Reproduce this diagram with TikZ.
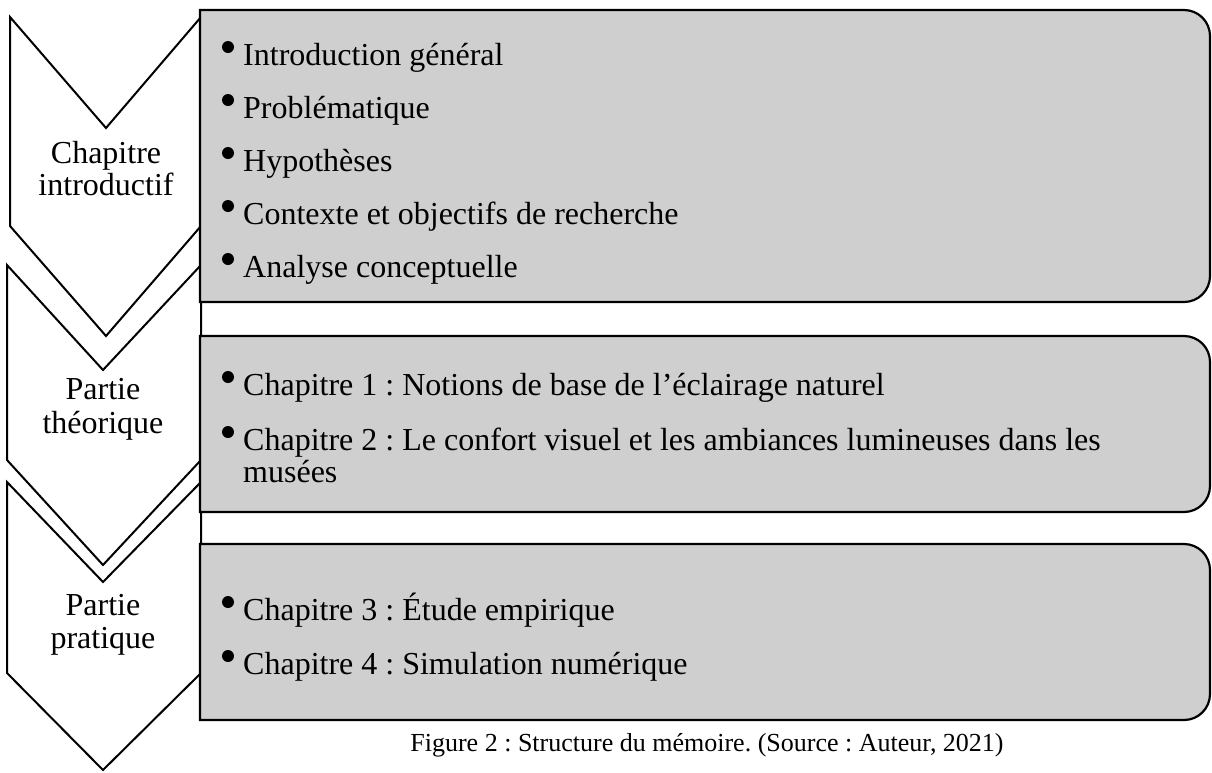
\documentclass[tikz,border=0pt]{standalone}
\usepackage{fontspec}
\setmainfont{Liberation Serif}
\frenchspacing
\begin{document}
\begin{tikzpicture}[x=1pt,y=-1pt,
  chev/.style={draw=black,line width=2pt,fill=white,line join=miter},
  gbox/.style={draw=black,line width=2.2pt,fill=boxgray},
  item/.style={anchor=base west,inner sep=0pt,font=\fontsize{32}{36}\selectfont},
  chlab/.style={anchor=base,inner sep=0pt,font=\fontsize{32}{36}\selectfont},
  bul/.style={circle,fill=black,inner sep=0pt,minimum size=12pt},
  captext/.style={anchor=base,inner sep=0pt,font=\fontsize{26}{30}\selectfont}]
\definecolor{boxgray}{HTML}{CFCFCF}
\useasboundingbox (0,0) rectangle (1212,772);
% chevrons
\draw[chev] (10,17) -- (106,128) -- (201,17) -- (201,226) -- (106,336) -- (10,226) -- cycle;
\draw[chev] (7,265) -- (103,370) -- (201,265) -- (201,460) -- (103,565) -- (7,460) -- cycle;
\draw[chev] (7,482) -- (103,582) -- (201,482) -- (201,673) -- (103,770) -- (7,673) -- cycle;
% boxes
\draw[gbox] (200,10) -- (1184,10) arc[start angle=-90,end angle=0,radius=26] -- (1210,276) arc[start angle=0,end angle=90,radius=26] -- (200,302) -- cycle;
\draw[gbox] (200,336) -- (1184,336) arc[start angle=-90,end angle=0,radius=26] -- (1210,486) arc[start angle=0,end angle=90,radius=26] -- (200,512) -- cycle;
\draw[gbox] (200,544) -- (1184,544) arc[start angle=-90,end angle=0,radius=26] -- (1210,694) arc[start angle=0,end angle=90,radius=26] -- (200,720) -- cycle;
% chevron labels
\node[chlab] (c1a) at (106,163) {Chapitre};
\node[chlab] (c1b) at (106,195) {introductif};
\node[chlab] (c2a) at (103,399) {Partie};
\node[chlab] (c2b) at (103,433) {théorique};
\node[chlab] (c3a) at (103,615) {Partie};
\node[chlab] (c3b) at (103,648) {pratique};
% box 1 items
\node[bul] (b11) at (228,47) {};
\node[item] (i11) at (243,65) {Introduction général};
\node[bul] (b12) at (228,100) {};
\node[item] (i12) at (243,118) {Problématique};
\node[bul] (b13) at (228,153) {};
\node[item] (i13) at (243,171) {Hypothèses};
\node[bul] (b14) at (228,206) {};
\node[item] (i14) at (243,224) {Contexte et objectifs de recherche};
\node[bul] (b15) at (228,259) {};
\node[item] (i15) at (243,277) {Analyse conceptuelle};
% box 2 items
\node[bul] (b21) at (228,377) {};
\node[item] (i21) at (243,395) {Chapitre 1 : Notions de base de l’éclairage naturel};
\node[bul] (b22) at (228,432) {};
\node[item] (i22) at (243,450) {Chapitre 2 : Le confort visuel et les ambiances lumineuses dans les};
\node[item] (i22b) at (243,482) {musées};
% box 3 items
\node[bul] (b31) at (228,602) {};
\node[item] (i31) at (243,620) {Chapitre 3 : Étude empirique};
\node[bul] (b32) at (228,656) {};
\node[item] (i32) at (243,674) {Chapitre 4 : Simulation numérique};
% caption
\node[captext] (caption) at (707,751) {Figure 2 : Structure du mémoire. (Source : Auteur, 2021)};
\end{tikzpicture}
\end{document}
